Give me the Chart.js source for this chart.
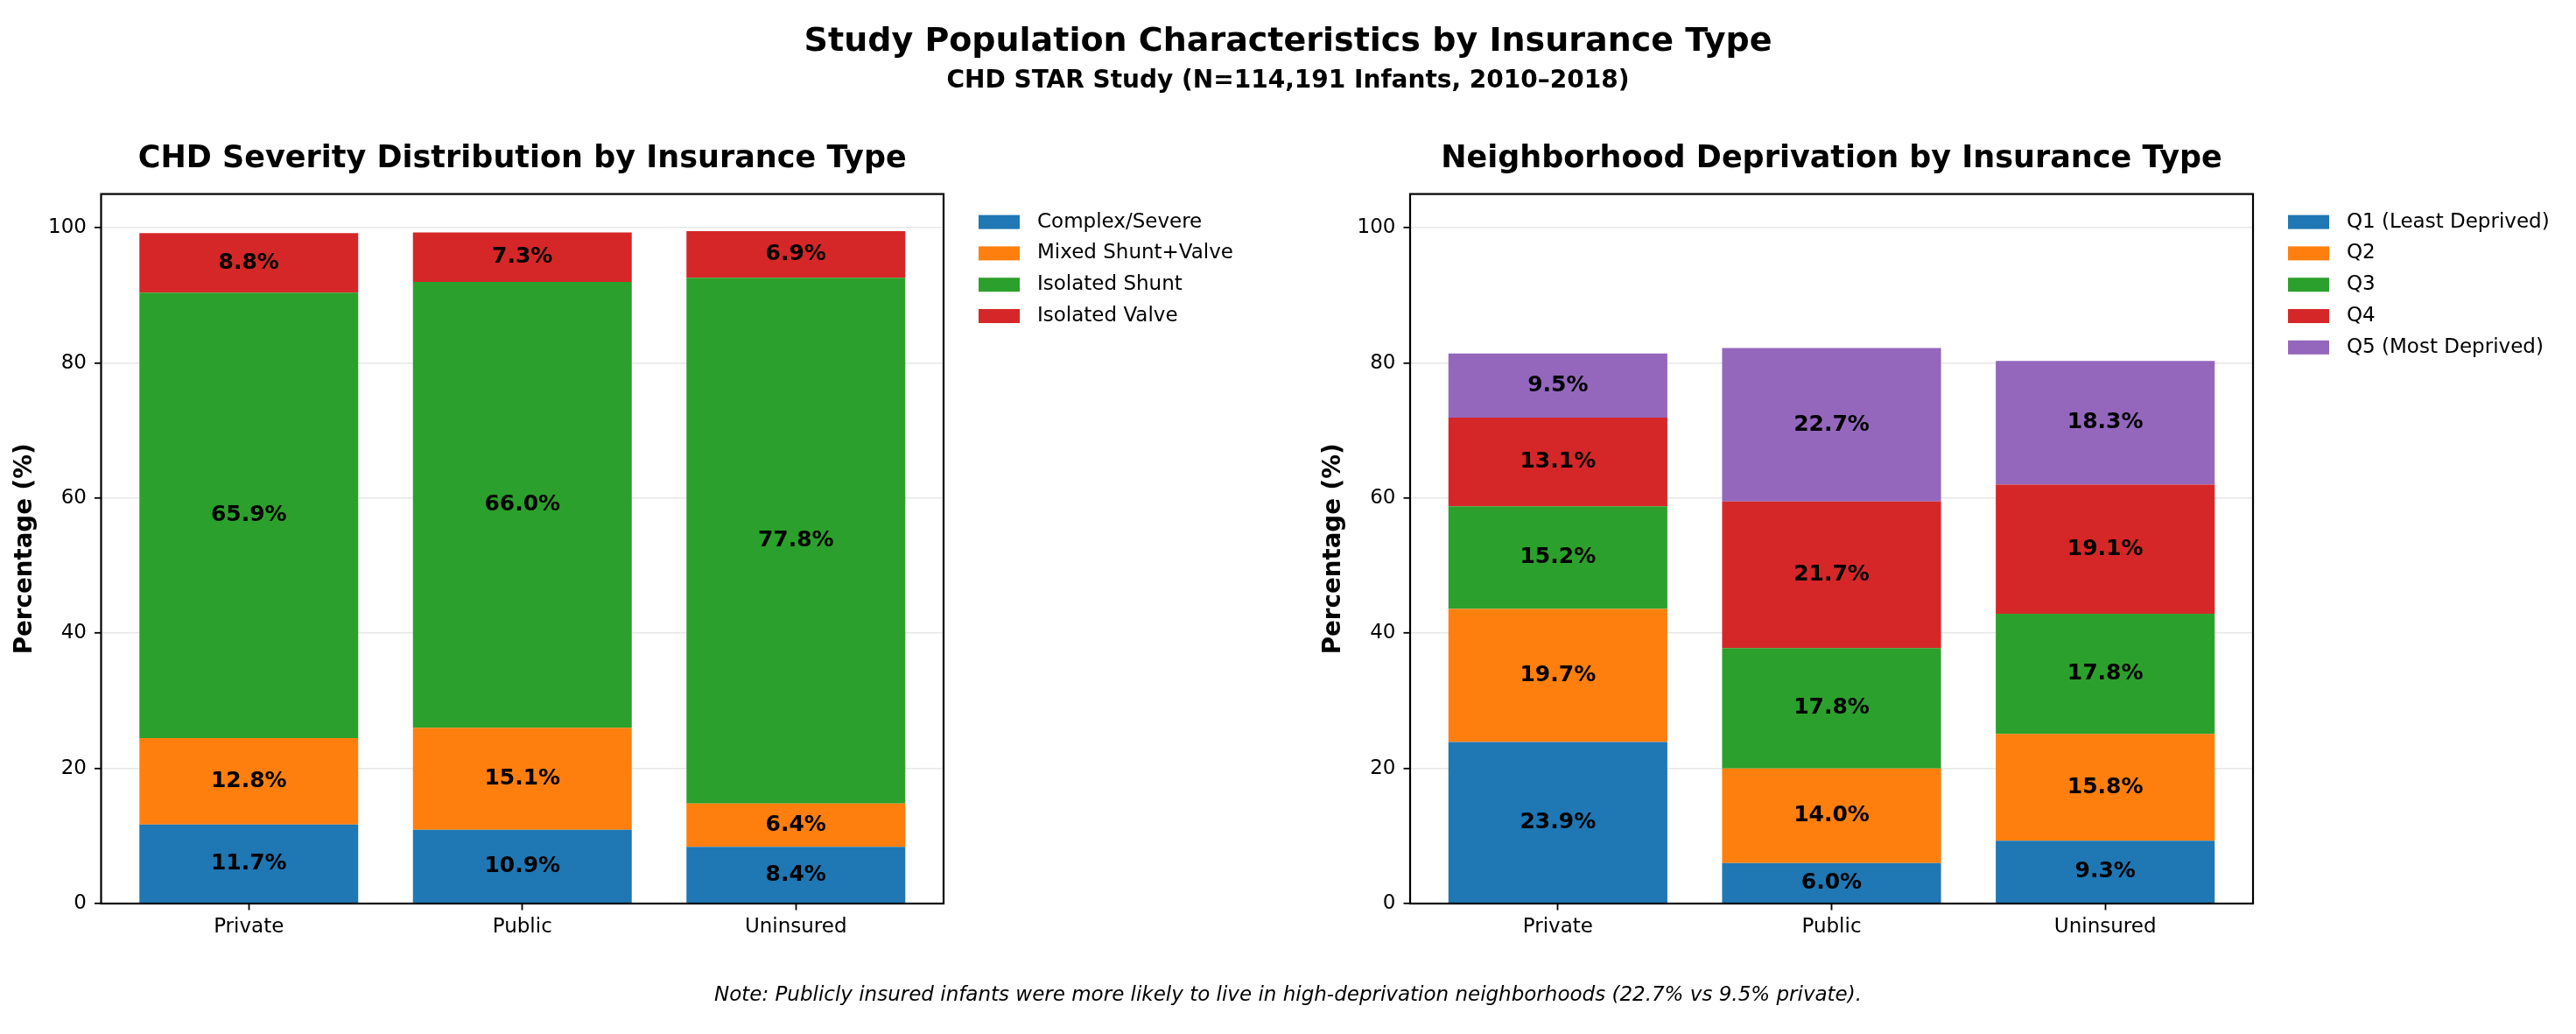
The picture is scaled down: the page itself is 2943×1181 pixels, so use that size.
<!DOCTYPE html>
<html>
<head>
<meta charset="utf-8">
<title>Study Population Characteristics by Insurance Type</title>
<script src="https://cdn.jsdelivr.net/npm/chart.js@4.4.1/dist/chart.umd.min.js"></script>
<style>
  html, body { margin: 0; padding: 0; background: #fff; }
  body { width: 2943px; height: 1181px; position: relative; overflow: hidden; font-family: "DejaVu Sans", sans-serif; color: #000; }
  canvas { position: absolute; top: 0; }
  #severity { left: 0; }
  #deprivation { left: 1472px; }
  .txt { position: absolute; left: 0; width: 2943px; text-align: center; line-height: 1; white-space: nowrap; z-index: 2; }
  #suptitle { top: 26px; font-size: 38px; font-weight: bold; }
  #subtitle { top: 77px; font-size: 28px; font-weight: bold; }
  #note { top: 1124px; font-size: 23px; font-style: italic; }
</style>
</head>
<body>
<div id="suptitle" class="txt">Study Population Characteristics by Insurance Type</div>
<div id="subtitle" class="txt">CHD STAR Study (N=114,191 Infants, 2010–2018)</div>
<canvas id="severity" width="1472" height="1181" style="width:1472px;height:1181px"></canvas>
<canvas id="deprivation" width="1471" height="1181" style="width:1471px;height:1181px"></canvas>
<div id="note" class="txt">Note: Publicly insured infants were more likely to live in high-deprivation neighborhoods (22.7% vs 9.5% private).</div>

<script>
// categories (x axis)
const INSURANCE = ["Private", "Public", "Uninsured"];

// left panel : CHD severity (%)
const SEVERITY_NAMES = ["Complex/Severe", "Mixed Shunt+Valve", "Isolated Shunt", "Isolated Valve"];
const COMPLEX = [11.7, 10.9, 8.4];
const MIXED = [12.8, 15.1, 6.4];
const SHUNT = [65.9, 66.0, 77.8];
const VALVE = [8.8, 7.3, 6.9];

// right panel : neighborhood deprivation quintiles (%)
const QUINTILE_NAMES = ["Q1 (Least Deprived)", "Q2", "Q3", "Q4", "Q5 (Most Deprived)"];
const Q1 = [23.9, 6.0, 9.3];
const Q2 = [19.7, 14.0, 15.8];
const Q3 = [15.2, 17.8, 17.8];
const Q4 = [13.1, 21.7, 19.1];
const Q5 = [9.5, 22.7, 18.3];

// y ticks
const Y_TICKS = [0, 20, 40, 60, 80, 100];

const TAB10 = ["#1f77b4", "#ff7f0e", "#2ca02c", "#d62728", "#9467bd"];

Chart.defaults.font.family = '"DejaVu Sans", sans-serif';
Chart.defaults.color = "#000";

// labels in the middle of each stacked segment, frame and legend
const decorations = {
  id: "decorations",
  afterDraw(chart) {
    const ctx = chart.ctx;
    const area = chart.chartArea;
    ctx.save();

    // segment labels
    ctx.font = 'bold 25px "DejaVu Sans"';
    ctx.fillStyle = "#000";
    ctx.textAlign = "center";
    ctx.textBaseline = "middle";
    chart.data.datasets.forEach((ds, i) => {
      chart.getDatasetMeta(i).data.forEach((bar, j) => {
        const p = bar.getProps(["x", "y", "base"], true);
        ctx.fillText(ds.data[j].toFixed(1) + "%", p.x, (p.y + p.base) / 2);
      });
    });

    // axes frame
    ctx.strokeStyle = "#000";
    ctx.lineWidth = 2.2;
    ctx.strokeRect(area.left, area.top, area.right - area.left, area.bottom - area.top);

    // legend
    ctx.font = '23px "DejaVu Sans"';
    ctx.textAlign = "left";
    chart.data.datasets.forEach((ds, i) => {
      const cy = area.top + 32 + i * 35.8;
      ctx.fillStyle = ds.backgroundColor;
      ctx.fillRect(area.right + 40, cy - 8, 47, 16);
      ctx.fillStyle = "#000";
      ctx.fillText(ds.label, area.right + 107, cy);
    });
    ctx.restore();
  }
};

function stackedChart(canvasId, title, names, series, geo) {
  return new Chart(document.getElementById(canvasId), {
    type: "bar",
    data: {
      labels: INSURANCE.map((_, i) => i),
      datasets: series.map((values, i) => ({
        label: names[i],
        data: values,
        backgroundColor: TAB10[i],
        borderWidth: 0,
        barPercentage: 0.8,
        categoryPercentage: 1.0
      }))
    },
    options: {
      responsive: false,
      devicePixelRatio: 1,
      animation: false,
      events: [],
      layout: { padding: { left: 0, top: 0, bottom: 0, right: geo.padRight } },
      plugins: {
        legend: { display: false },
        tooltip: { enabled: false },
        title: {
          display: true,
          text: title,
          fullSize: false,
          font: { size: 35, weight: "bold" },
          color: "#000",
          padding: { top: 160.7, bottom: 18.9 }
        }
      },
      scales: {
        x: {
          type: "linear",
          stacked: true,
          min: -0.54,
          max: 2.54,
          offset: false,
          afterFit: s => { s.height = 149; },
          border: { display: false },
          grid: { drawOnChartArea: false, offset: false, tickLength: 7.5, tickColor: "#000", tickWidth: 1.8 },
          ticks: {
            stepSize: 1,
            includeBounds: false,
            autoSkip: false,
            maxRotation: 0,
            padding: 6,
            font: { size: 23 },
            color: "#000",
            callback: v => INSURANCE[v] ?? ""
          }
        },
        y: {
          stacked: true,
          min: 0,
          max: 105,
          z: 1,
          afterFit: s => { s.width = geo.yWidth; },
          afterBuildTicks: s => { s.ticks = Y_TICKS.map(v => ({ value: v })); },
          border: { display: false },
          grid: { color: "rgba(176,176,176,0.3)", lineWidth: 1.6, tickLength: 7.5, tickColor: "#000", tickWidth: 1.8 },
          ticks: { padding: 9, font: { size: 23 }, color: "#000" },
          title: {
            display: true,
            text: "Percentage (%)",
            font: { size: 27.7, weight: "bold" },
            color: "#000",
            padding: { top: geo.yTitlePad, bottom: 0 }
          }
        }
      }
    },
    plugins: [decorations]
  });
}

stackedChart("severity", "CHD Severity Distribution by Insurance Type",
  SEVERITY_NAMES, [COMPLEX, MIXED, SHUNT, VALVE],
  { yWidth: 115.5, yTitlePad: 11.7, padRight: 394 });

stackedChart("deprivation", "Neighborhood Deprivation by Insurance Type",
  QUINTILE_NAMES, [Q1, Q2, Q3, Q4, Q5],
  { yWidth: 139, yTitlePad: 35.4, padRight: 369 });
</script>
</body>
</html>
